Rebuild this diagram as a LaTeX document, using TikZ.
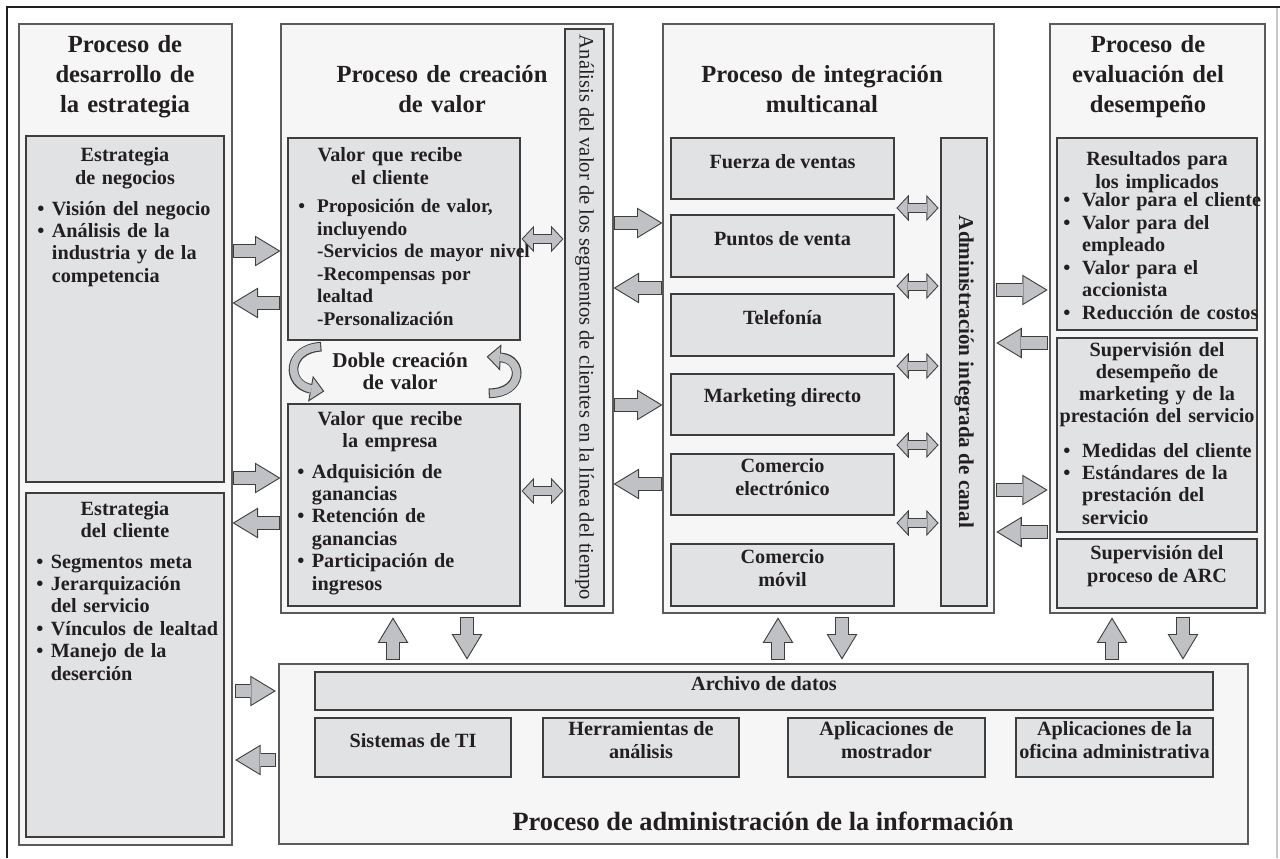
\documentclass[tikz,border=0pt]{standalone}
\usepackage{fontspec}
\setmainfont{Liberation Serif}
\usetikzlibrary{arrows.meta, positioning, fit, calc}

\definecolor{panelFill}{RGB}{245,246,245}
\definecolor{boxFill}{RGB}{225,226,228}
\definecolor{arrowFill}{RGB}{192,193,196}
\definecolor{lineGray}{RGB}{62,62,62}
\definecolor{inkGray}{RGB}{35,31,32}
\definecolor{frameLight}{RGB}{200,200,200}

\newcommand{\bul}[1][0.72em]{\makebox[#1][l]{\textbullet}}
\newcommand{\ind}[1][0.72em]{\hspace*{#1}}

\begin{document}
\begin{tikzpicture}[x=0.02cm, y=-0.02cm,
  every node/.style={text=inkGray, inner sep=0pt},
  panel/.style={draw=lineGray!85, line width=0.6pt, fill=panelFill, inner sep=0pt},
  box/.style={draw=lineGray, line width=0.8pt, fill=boxFill, inner sep=0pt, align=center,
    font=\fontsize{11.5}{13}\selectfont\bfseries},
  title/.style={anchor=base, align=center, text width=6cm, font=\fontsize{14}{17}\selectfont\bfseries},
  head/.style={anchor=base, align=center, text width=4.4cm, font=\fontsize{11.5}{12.6}\selectfont\bfseries},
  list/.style={anchor=base west, align=left, text width=6cm, font=\fontsize{11.5}{12.75}\selectfont\bfseries},
  vtext/.style={rotate=-90, font=\fontsize{11.7}{14}\selectfont},
  fat/.style={draw=arrowFill, line width=7pt,
    -{Triangle[width=15.4pt, length=12.7pt, line width=0pt]},
    shorten >=#1+1.2pt, shorten <=#1+0.6pt,
    preaction={draw=lineGray, line width=8.2pt,
      -{Triangle[width=17.5pt, length=14.5pt, line width=0pt]},
      shorten >=#1, shorten <=#1}},
  fat/.default=0pt,
  dfat/.style={draw=arrowFill, line width=4.8pt,
    {Triangle[width=12pt, length=5.6pt, line width=0pt]}-{Triangle[width=12pt, length=5.6pt, line width=0pt]},
    shorten >=#1+0.8pt, shorten <=#1+0.8pt,
    preaction={draw=lineGray, line width=6pt,
      {Triangle[width=15pt, length=7pt, line width=0pt]}-{Triangle[width=15pt, length=7pt, line width=0pt]},
      shorten >=#1, shorten <=#1}},
  dfat/.default=0pt,
  bent/.style={draw=arrowFill, line width=4.3pt,
    -{Triangle[width=12.2pt, length=6.5pt, line width=0pt]},
    shorten >=0.9pt, shorten <=0.6pt,
    preaction={draw=lineGray, line width=5.5pt,
      -{Triangle[width=15pt, length=8pt, line width=0pt]},
      shorten >=0pt, shorten <=0pt}},
]

\useasboundingbox (0,0) rectangle (1280,858);

% Outer frame
\draw[line width=1.3pt, draw=inkGray] (7,858) -- (7,7) -- (1280,7);
\draw[line width=0.8pt, draw=frameLight] (1277,8) -- (1277,858);

% Process panels
\node[panel, fit={(19,24) (232,845)}] (strat) {};
\node[panel, fit={(281,24) (613,613)}] (vc) {};
\node[panel, fit={(663,24) (994,613)}] (mc) {};
\node[panel, fit={(1050,24) (1265,613)}] (pe) {};
\node[panel, fit={(279,664) (1248,844)}] (info) {};

% Panel titles
\node[title] (tstrat) at (125,53) {Proceso de\\desarrollo de\\la estrategia};
\node[title] (tvc) at (442,83) {Proceso de creación\\de valor};
\node[title] (tmc) at (822,83) {Proceso de integración\\multicanal};
\node[title] (tpe) at (1148,53) {Proceso de\\evaluación del\\desempeño};
\node[anchor=base, font=\fontsize{15}{17}\selectfont\bfseries] (tinfo) at (763,830)
  {Proceso de administración de la información};

% Strategy column
\node[box, fit={(26,136) (224,482)}] (neg) {};
\node[box, fit={(26,493) (224,837)}] (cli) {};
\node[head] (hneg) at (125,162) {Estrategia\\de negocios};
\node[list] (lneg) at (37,215) {\bul Visión del negocio\\\bul Análisis de la\\\ind industria y de la\\\ind competencia};
\node[head] (hcli) at (125,515) {Estrategia\\del cliente};
\node[list] (lcli) at (36,568) {\bul Segmentos meta\\\bul Jerarquización\\\ind del servicio\\\bul Vínculos de lealtad\\\bul Manejo de la\\\ind deserción};

% Value creation column
\node[box, fit={(288,138) (520,340)}] (vcli) {};
\node[box, fit={(288,404) (520,606)}] (vemp) {};
\node[box, fit={(565,29) (604,606)}] (linea) {};
\node[head] (hvcli) at (390,162) {Valor que recibe\\el cliente};
\node[list, font=\fontsize{11}{12.75}\selectfont\bfseries] (lvcli) at (298,213) {\bul[0.64em] Proposición de valor,\\\ind[0.64em] incluyendo\\\ind[0.64em] -Servicios de mayor nivel\\\ind[0.64em] -Recompensas por\\\ind[0.64em]\hphantom{-}lealtad\\\ind[0.64em] -Personalización};
\node[head, font=\fontsize{12}{13}\selectfont\bfseries] (dcv) at (400,367) {Doble creación\\de valor};
\node[head] (hvemp) at (390,425) {Valor que recibe\\la empresa};
\node[list] (lvemp) at (297,478) {\bul Adquisición de\\\ind ganancias\\\bul Retención de\\\ind ganancias\\\bul Participación de\\\ind ingresos};
\node[vtext] (tlinea) at (linea.center) {Análisis del valor de los segmentos de clientes en la línea del tiempo};

% Multichannel column
\node[box, fit={(671,138) (894,199)}] (fza) {Fuerza de ventas};
\node[box, fit={(671,215) (894,277)}] (ptos) {Puntos de venta};
\node[box, fit={(671,294) (894,356)}] (tel) {Telefonía};
\node[box, fit={(671,374) (894,435)}] (mkt) {Marketing directo};
\node[box, fit={(671,454) (894,515)}] (ecom) {Comercio\\electrónico};
\node[box, fit={(671,544) (894,606)}] (mcom) {Comercio\\móvil};
\node[box, fit={(941,138) (987,606)}] (adm) {};
\node[vtext, font=\fontsize{12}{14}\selectfont\bfseries] (tadm) at (adm.center) {Administración integrada de canal};

% Performance column
\node[box, fit={(1057,138) (1257,330)}] (res) {};
\node[box, fit={(1057,338) (1257,532)}] (sup) {};
\node[box, fit={(1057,539) (1257,608)}] (arc) {Supervisión del\\proceso de ARC};
\node[head] (hres) at (1157,166) {Resultados para\\los implicados};
\node[list] (lres) at (1063,207) {\bul[0.6em] Valor para el cliente\\\bul[0.6em] Valor para del\\\ind[0.6em] empleado\\\bul[0.6em] Valor para el\\\ind[0.6em] accionista\\\bul[0.6em] Reducción de costos};
\node[head] (hsup) at (1157,356) {Supervisión del\\desempeño de\\marketing y de la\\prestación del servicio};
\node[list] (lsup) at (1063,457) {\bul[0.6em] Medidas del cliente\\\bul[0.6em] Estándares de la\\\ind[0.6em] prestación del\\\ind[0.6em] servicio};

% Information column
\node[box, fit={(315,672) (1213,710)}] (arch) {Archivo de datos};
\node[box, fit={(315,718) (511,777)}] (sis) {Sistemas de TI};
\node[box, fit={(543,718) (739,777)}] (her) {Herramientas de\\análisis};
\node[box, fit={(788,718) (985,777)}] (mos) {Aplicaciones de\\mostrador};
\node[box, fit={(1016,718) (1213,777)}] (ofi) {Aplicaciones de la\\oficina administrativa};

% Double value creation
\draw[bent] ($(vcli.south west)+(34,6)$) .. controls ($(vcli.south west)+(-1,8)$) and ($(vemp.north west)+(-1,-19)$) .. ($(vemp.north west)+(37,-12)$);
\draw[bent] ($(vemp.north east)+(-32,-10)$) .. controls ($(vemp.north east)+(3,-10)$) and ($(vcli.south east)+(3,18)$) .. ($(vcli.south east)+(-34,16)$);

% Strategy <-> value creation and information
\draw[fat] (strat.east |- 0,251) -- (vc.west |- 0,251);
\draw[fat] (vc.west |- 0,303) -- (strat.east |- 0,303);
\draw[fat] (strat.east |- 0,478) -- (vc.west |- 0,478);
\draw[fat] (vc.west |- 0,523) -- (strat.east |- 0,523);
\draw[fat=1.5pt] (strat.east |- 0,691) -- (info.west |- 0,691);
\draw[fat=1.5pt] (info.west |- 0,760) -- (strat.east |- 0,760);

% Value creation <-> multichannel
\draw[fat] (vc.east |- 0,223) -- (mc.west |- 0,223);
\draw[fat] (mc.west |- 0,288) -- (vc.east |- 0,288);
\draw[fat] (vc.east |- 0,405) -- (mc.west |- 0,405);
\draw[fat] (mc.west |- 0,484) -- (vc.east |- 0,484);

% Multichannel <-> performance
\draw[fat=1pt] (mc.east |- 0,290) -- (pe.west |- 0,290);
\draw[fat=1pt] (pe.west |- 0,343) -- (mc.east |- 0,343);
\draw[fat=1pt] (mc.east |- 0,490) -- (pe.west |- 0,490);
\draw[fat=1pt] (pe.west |- 0,532) -- (mc.east |- 0,532);

% Processes <-> information
\draw[fat=2.2pt] (info.north -| 393,0) -- (vc.south -| 393,0);
\draw[fat=2.2pt] (vc.south -| 467,0) -- (info.north -| 467,0);
\draw[fat=2.2pt] (info.north -| 778,0) -- (mc.south -| 778,0);
\draw[fat=2.2pt] (mc.south -| 842,0) -- (info.north -| 842,0);
\draw[fat=2.2pt] (info.north -| 1112,0) -- (pe.south -| 1112,0);
\draw[fat=2.2pt] (pe.south -| 1183,0) -- (info.north -| 1183,0);

% Two-way links to the vertical bars
\draw[dfat=0.5pt] (vcli.east |- 0,239) -- (linea.west |- 0,239);
\draw[dfat=0.5pt] (vemp.east |- 0,491) -- (linea.west |- 0,491);
\foreach \y in {208,286,366,445,523}
  \draw[dfat=1pt] (fza.east |- 0,\y) -- (adm.west |- 0,\y);

\end{tikzpicture}
\end{document}
